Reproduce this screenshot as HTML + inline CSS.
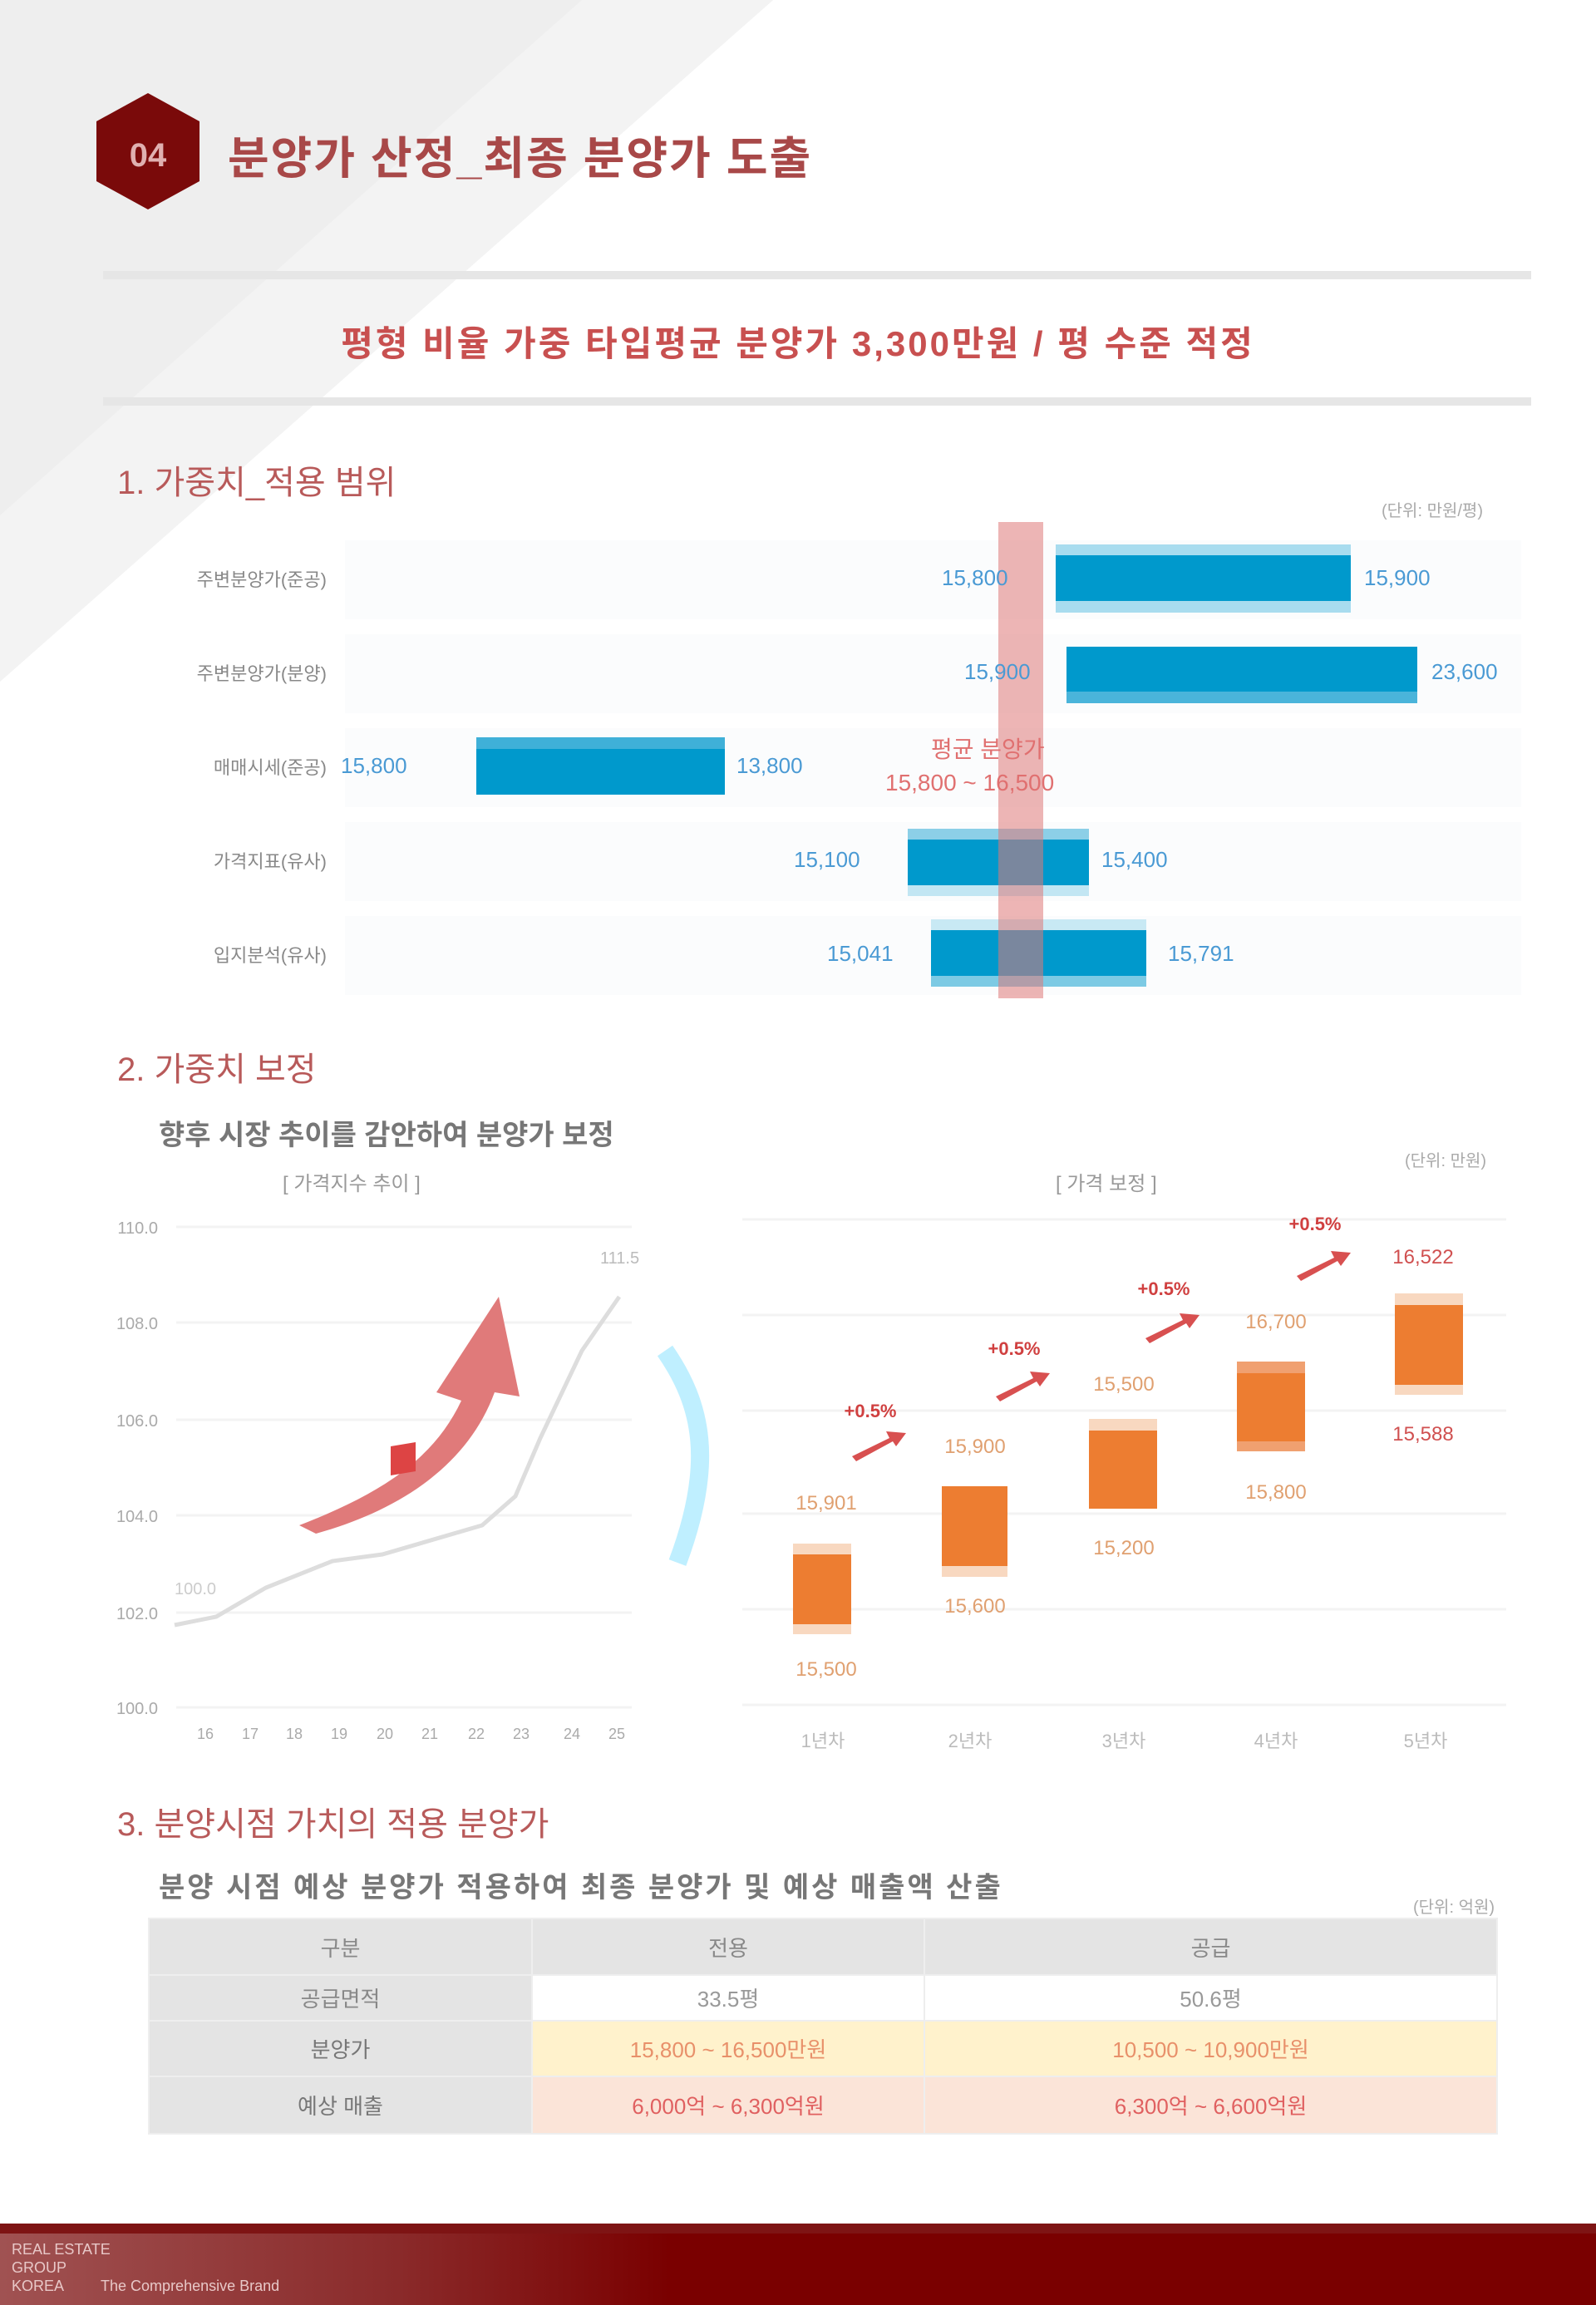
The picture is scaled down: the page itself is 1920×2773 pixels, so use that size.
<!DOCTYPE html>
<html><head><meta charset="utf-8"><style>
*{margin:0;padding:0;box-sizing:border-box}
body{width:1920px;height:2773px;position:relative;background:#fff;font-family:"Liberation Sans","Noto Sans CJK KR",sans-serif;overflow:hidden}
.a{position:absolute;white-space:nowrap}
.lbl{color:#888;font-size:22px;text-align:right;width:260px}
.bv{color:#4a9ad4;font-size:26px}
td{border:2px solid #eee;text-align:center;font-size:26px}
</style></head><body>
<svg class="a" style="left:0;top:0" width="1920" height="900">
<polygon points="0,0 930,0 0,820" fill="#eeeeee"/>
<polygon points="930,0 700,0 0,620 0,820" fill="#f3f3f3"/>
</svg>
<svg class="a" style="left:108px;top:108px" width="140" height="150">
<polygon points="70,4 132,38 132,110 70,144 8,110 8,38" fill="#7a0a0a"/>
<text x="70" y="92" font-size="40" fill="#e0b0b0" text-anchor="middle" font-family="Liberation Sans" font-weight="bold">04</text>
</svg>
<div class="a" style="left:274px;top:146px;font-size:54px;color:#a84848;font-weight:bold;letter-spacing:2px">분양가 산정_최종 분양가 도출</div>
<div class="a" style="left:124px;top:326px;width:1718px;height:10px;background:#e6e6e6"></div>
<div class="a" style="left:0;top:380px;width:1920px;text-align:center;font-size:42px;color:#c85050;font-weight:bold;letter-spacing:3px">평형 비율 가중 타입평균 분양가 3,300만원 / 평 수준 적정</div>
<div class="a" style="left:124px;top:478px;width:1718px;height:10px;background:#e6e6e6"></div>

<div class="a" style="left:141px;top:548px;font-size:40px;color:#b85a5a">1. 가중치_적용 범위</div>
<div class="a" style="left:1662px;top:598px;font-size:20px;color:#aaa">(단위: 만원/평)</div>
<div class="a" style="left:415px;top:650px;width:1415px;height:95px;background:#fbfcfd"></div>
<div class="a" style="left:415px;top:763px;width:1415px;height:95px;background:#fbfcfd"></div>
<div class="a" style="left:415px;top:876px;width:1415px;height:95px;background:#fbfcfd"></div>
<div class="a" style="left:415px;top:989px;width:1415px;height:95px;background:#fbfcfd"></div>
<div class="a" style="left:415px;top:1102px;width:1415px;height:95px;background:#fbfcfd"></div>
<div class="a lbl" style="left:133px;top:680px">주변분양가(준공)</div>
<div class="a lbl" style="left:133px;top:793px">주변분양가(분양)</div>
<div class="a lbl" style="left:133px;top:906px">매매시세(준공)</div>
<div class="a lbl" style="left:133px;top:1019px">가격지표(유사)</div>
<div class="a lbl" style="left:133px;top:1132px">입지분석(유사)</div>
<div class="a" style="left:1270px;top:655px;width:355px;height:82px;background:#a8dcef"></div>
<div class="a" style="left:1270px;top:668px;width:355px;height:55px;background:#0099cc"></div>
<div class="a" style="left:1283px;top:778px;width:422px;height:68px;background:#0099cc;border-bottom:14px solid #4ab4da"></div>
<div class="a" style="left:573px;top:887px;width:299px;height:69px;background:#0099cc;border-top:14px solid #3fb0d8"></div>
<div class="a" style="left:1092px;top:997px;width:218px;height:81px;background:#0099cc;border-top:13px solid #8ccfe7;border-bottom:13px solid #c2e6f3"></div>
<div class="a" style="left:1120px;top:1106px;width:259px;height:81px;background:#0099cc;border-top:13px solid #c8e9f4;border-bottom:13px solid #7ccae4"></div>
<div class="a" style="left:1201px;top:628px;width:54px;height:573px;background:rgba(222,120,120,0.55)"></div>
<div class="a bv" style="left:1133px;top:680px">15,800</div>
<div class="a bv" style="left:1641px;top:680px">15,900</div>
<div class="a bv" style="left:1160px;top:793px">15,900</div>
<div class="a bv" style="left:1722px;top:793px">23,600</div>
<div class="a bv" style="left:410px;top:906px">15,800</div>
<div class="a bv" style="left:886px;top:906px">13,800</div>
<div class="a bv" style="left:955px;top:1019px">15,100</div>
<div class="a bv" style="left:1325px;top:1019px">15,400</div>
<div class="a bv" style="left:995px;top:1132px">15,041</div>
<div class="a bv" style="left:1405px;top:1132px">15,791</div>
<div class="a" style="left:1120px;top:880px;font-size:28px;color:#e07070">평균 분양가</div>
<div class="a" style="left:1065px;top:926px;font-size:28px;color:#e07070">15,800 ~ 16,500</div>

<div class="a" style="left:141px;top:1254px;font-size:40px;color:#b85a5a">2. 가중치 보정</div>
<div class="a" style="left:191px;top:1338px;font-size:34px;color:#777;font-weight:bold">향후 시장 추이를 감안하여 분양가 보정</div>
<div class="a" style="left:340px;top:1404px;font-size:24px;color:#999">[ 가격지수 추이 ]</div>
<div class="a" style="left:1270px;top:1404px;font-size:24px;color:#999">[ 가격 보정 ]</div>
<div class="a" style="left:1690px;top:1380px;font-size:20px;color:#aaa">(단위: 만원)</div>
<svg class="a" style="left:0;top:1440px" width="1920" height="680">
<g stroke="#f3f3f3" stroke-width="3">
<line x1="212" y1="36" x2="760" y2="36"/><line x1="212" y1="151" x2="760" y2="151"/><line x1="212" y1="268" x2="760" y2="268"/><line x1="212" y1="383" x2="760" y2="383"/><line x1="212" y1="500" x2="760" y2="500"/><line x1="212" y1="614" x2="760" y2="614"/>
<line x1="893" y1="27" x2="1812" y2="27"/><line x1="893" y1="142" x2="1812" y2="142"/><line x1="893" y1="257" x2="1812" y2="257"/><line x1="893" y1="381" x2="1812" y2="381"/><line x1="893" y1="496" x2="1812" y2="496"/><line x1="893" y1="611" x2="1812" y2="611"/>
</g>
<g font-size="20" fill="#aaa" text-anchor="end" font-family="Liberation Sans"><text x="190" y="44">110.0</text><text x="190" y="159">108.0</text><text x="190" y="276">106.0</text><text x="190" y="391">104.0</text><text x="190" y="508">102.0</text><text x="190" y="622">100.0</text></g>
<g font-size="18" fill="#aaa" text-anchor="middle" font-family="Liberation Sans"><text x="247" y="652">16</text><text x="301" y="652">17</text><text x="354" y="652">18</text><text x="408" y="652">19</text><text x="463" y="652">20</text><text x="517" y="652">21</text><text x="573" y="652">22</text><text x="627" y="652">23</text><text x="688" y="652">24</text><text x="742" y="652">25</text></g>
<polyline points="210,515 260,505 320,470 400,438 460,430 580,395 620,360 650,290 700,185 745,120" fill="none" stroke="#ddd" stroke-width="5"/>
<text x="722" y="80" font-size="20" fill="#bbb" font-family="Liberation Sans">111.5</text>
<text x="210" y="478" font-size="20" fill="#ccc" font-family="Liberation Sans">100.0</text>
<path d="M360,395 C450,360 520,320 555,245 L525,235 L600,120 L625,240 L595,235 C560,330 470,380 380,405 Z" fill="#e07a7a"/>
<path d="M470,300 L500,295 L500,330 L470,335Z" fill="#d44"/>
<path d="M800,185 C845,250 860,320 815,440" fill="none" stroke="#bfefff" stroke-width="22"/>
<g>
<rect x="954" y="417" width="70" height="109" fill="#f8d8c0"/><rect x="954" y="430" width="70" height="84" fill="#ed7d31"/>
<rect x="1133" y="348" width="79" height="109" fill="#f8d8c0"/><rect x="1133" y="348" width="79" height="96" fill="#ed7d31"/>
<rect x="1310" y="267" width="82" height="108" fill="#f8d8c0"/><rect x="1310" y="281" width="82" height="94" fill="#ed7d31"/>
<rect x="1488" y="198" width="82" height="108" fill="#f0a070"/><rect x="1488" y="212" width="82" height="82" fill="#ed7d31"/>
<rect x="1678" y="116" width="82" height="122" fill="#f8d8c0"/><rect x="1678" y="130" width="82" height="96" fill="#ed7d31"/>
</g>
<g font-size="24" text-anchor="middle" font-family="Liberation Sans" fill="#e0a070">
<text x="994" y="376">15,901</text><text x="994" y="576">15,500</text>
<text x="1173" y="308">15,900</text><text x="1173" y="500">15,600</text>
<text x="1352" y="233">15,500</text><text x="1352" y="430">15,200</text>
<text x="1535" y="158">16,700</text><text x="1535" y="363">15,800</text>
<text x="1712" y="80" fill="#d05050">16,522</text><text x="1712" y="293" fill="#d05050">15,588</text>
</g>
<g font-size="22" text-anchor="middle" font-family="Liberation Sans" fill="#d04040" font-weight="bold">
<text x="1047" y="265">+0.5%</text><text x="1220" y="190">+0.5%</text><text x="1400" y="118">+0.5%</text><text x="1582" y="40">+0.5%</text>
</g>
<g fill="#d85050">
<path d="M1025,312 L1070,290 L1066,282 L1090,284 L1078,300 L1074,294 L1030,318Z"/>
<path d="M1198,240 L1243,218 L1239,210 L1263,212 L1251,228 L1247,222 L1203,246Z"/>
<path d="M1378,170 L1423,148 L1419,140 L1443,142 L1431,158 L1427,152 L1383,176Z"/>
<path d="M1560,95 L1605,73 L1601,65 L1625,67 L1613,83 L1609,77 L1565,101Z"/>
</g>
<g font-size="22" fill="#bbb" text-anchor="middle" font-family="Liberation Sans"><text x="990" y="662">1년차</text><text x="1167" y="662">2년차</text><text x="1352" y="662">3년차</text><text x="1535" y="662">4년차</text><text x="1715" y="662">5년차</text></g>
</svg>

<div class="a" style="left:141px;top:2162px;font-size:40px;color:#b85a5a">3. 분양시점 가치의 적용 분양가</div>
<div class="a" style="left:191px;top:2243px;font-size:34px;color:#777;font-weight:bold;letter-spacing:3px">분양 시점 예상 분양가 적용하여 최종 분양가 및 예상 매출액 산출</div>
<div class="a" style="left:1700px;top:2278px;font-size:20px;color:#aaa">(단위: 억원)</div>
<table class="a" style="left:178px;top:2307px;width:1624px;border-collapse:collapse">
<tr style="height:68px;background:#e4e4e4;color:#888"><td style="width:461px">구분</td><td style="width:472px">전용</td><td>공급</td></tr>
<tr style="height:55px"><td style="background:#e4e4e4;color:#888">공급면적</td><td style="background:#fff;color:#999">33.5평</td><td style="background:#fff;color:#999">50.6평</td></tr>
<tr style="height:67px"><td style="background:#e4e4e4;color:#777">분양가</td><td style="background:#fff2cc;color:#e8906a">15,800 ~ 16,500만원</td><td style="background:#fff2cc;color:#e8906a">10,500 ~ 10,900만원</td></tr>
<tr style="height:69px"><td style="background:#e4e4e4;color:#777">예상 매출</td><td style="background:#fbe4d8;color:#e06060">6,000억 ~ 6,300억원</td><td style="background:#fbe4d8;color:#e06060">6,300억 ~ 6,600억원</td></tr>
</table>

<div class="a" style="left:0;top:2675px;width:1920px;height:98px;background:linear-gradient(90deg,#a05252 0%,#8a2a2a 25%,#7a0000 42%,#7a0000 100%)"></div>
<div class="a" style="left:0;top:2675px;width:1920px;height:12px;background:#7e1414"></div>
<div class="a" style="left:14px;top:2695px;font-size:18px;color:#e8c8c8;line-height:22px">REAL ESTATE<br>GROUP<br>KOREA &nbsp;&nbsp;&nbsp;&nbsp;&nbsp;&nbsp;&nbsp;&nbsp;The Comprehensive Brand</div>
</body></html>
